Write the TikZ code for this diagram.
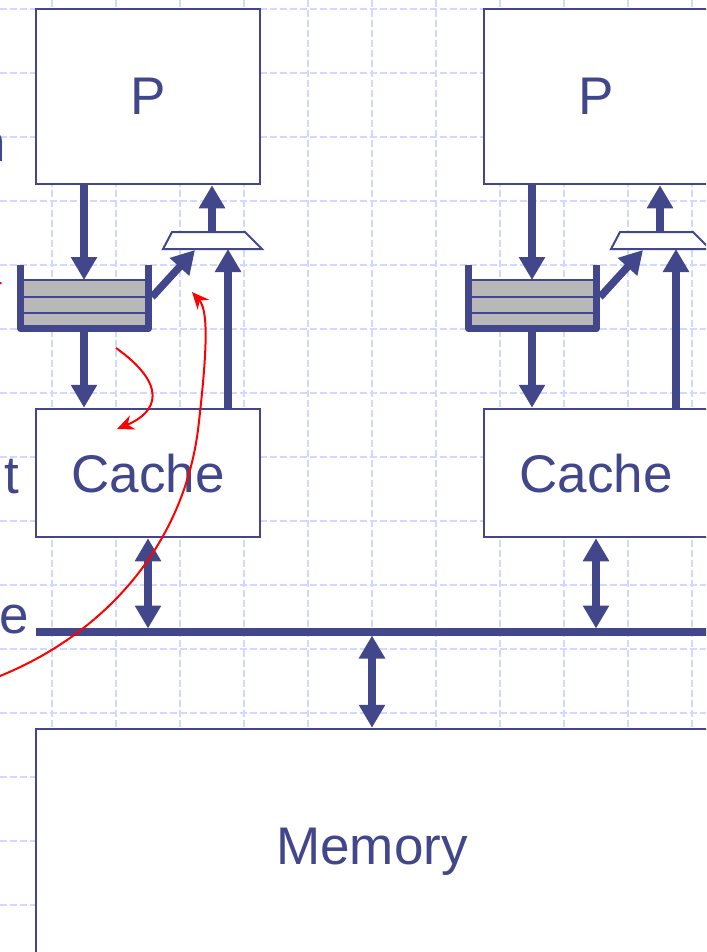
\documentclass[tikz,border=0pt]{standalone}
\usepackage{fontspec}
\setmainfont{Liberation Sans}
\usetikzlibrary{arrows.meta}
\definecolor{slideblue}{RGB}{66,71,140}
\definecolor{gridblue}{RGB}{208,218,255}
\definecolor{slotgray}{RGB}{184,184,184}
\tikzset{
  unit/.style={rectangle, draw=slideblue, line width=2.5pt, fill=white,
    text=slideblue, inner sep=0pt, text depth=0pt,
    font=\fontsize{53}{60}\selectfont},
  datapath/.style={draw=slideblue, line width=7.5pt,
    -{Triangle[width=25pt,length=23pt]}},
  bidir/.style={datapath,
    {Triangle[width=25pt,length=23pt]}-{Triangle[width=25pt,length=23pt]}},
  note/.style={draw=red, line width=2pt, -{Stealth[width=15pt,length=17pt]}}
}

\begin{document}
\begin{tikzpicture}[
    x=1pt, y=-1pt,
    gridline/.style={draw=gridblue, line width=1.2pt, dash pattern=on 7pt off 3pt},
    wall/.style={draw=slideblue, line width=7.5pt, line join=round},
    mux/.style={draw=slideblue, line width=2pt, fill=white},
    slot/.style={draw=slideblue, line width=2pt},
    cut/.style={anchor=base east, inner sep=0pt, text=slideblue,
                font=\fontsize{53}{60}\selectfont}
]
\clip (0,0) rectangle (706,952);

% grid
\foreach \i in {0,...,10}
  \draw[gridline] ({52+64*\i},0) -- ({52+64*\i},952);
\foreach \j in {0,...,14}
  \draw[gridline] (0,{9+64*\j}) -- (706,{9+64*\j});

% bus and memory
\coordinate (busW) at (36,632);
\coordinate (busE) at (720,632);
\coordinate (busN) at (0,628.5);
\coordinate (busS) at (0,635.5);
\draw[wall] (busW) -- (busE);
\node[unit, minimum width=672pt, minimum height=234pt] (mem) at (372,846) {Memory};
\draw[bidir] (mem.north |- busS) -- (mem.north);

% processor units
\foreach \dx/\s in {0/L,448/R}{
\begin{scope}[xshift=\dx pt]
  \node[unit, minimum width=224pt, minimum height=175pt] (P\s) at (148,96.5) {P};
  \node[unit, minimum width=224pt, minimum height=128pt] (cache\s) at (148,473) {Cache};

  % queue
  \fill[slotgray] (24,280) rectangle (145,325);
  \foreach \y in {280,297,313}
    \draw[slot] (24,\y) -- (145,\y);
  \draw[wall] (20.5,265) -- (20.5,328.5) -- (148.5,328.5) -- (148.5,265);
  \coordinate (qin\s) at (84,280);
  \coordinate (qout\s) at (84,332);
  \coordinate (qside\s) at (152,297);

  % mux
  \draw[mux] (172,232) -- (245,232) -- (262,249) -- (163,249) -- cycle;
  \coordinate (muxtop\s) at (212,232);
  \coordinate (muxin\s) at (195,250);
  \coordinate (muxbot\s) at (228,249);

  % arrows
  \draw[datapath] (P\s.south -| qin\s) -- (qin\s);
  \draw[datapath] (qout\s) -- (qout\s |- cache\s.north);
  \draw[datapath] (qside\s) -- (muxin\s);
  \draw[datapath] (muxtop\s) -- (muxtop\s |- P\s.south);
  \draw[datapath] (cache\s.north -| muxbot\s) -- (muxbot\s);
  \draw[bidir] (cache\s.south) -- (cache\s.south |- busN);
\end{scope}
}

% labels cut at the left edge
\node[cut] (lblN) at (6,162) {n};
\node[cut] (lblT) at (19.5,493) {t};
\node[cut] (lblE) at (29,633) {e};

% red notes
\coordinate (bypassA) at (116,348);
\coordinate (bypassB) at (117,429);
\coordinate (snoopA) at (-5,678);
\coordinate (snoopM) at (198,430);
\coordinate (snoopB) at (192,292);
\draw[note] (bypassA) .. controls (168,385) and (158,412) .. (bypassB);
\draw[note] (snoopA) .. controls (105,635) and (183,545) .. (snoopM)
  .. controls (208,345) and (208,310) .. (snoopB);
\draw[red, line width=2pt] (-4,284) -- (1.5,283);

\end{tikzpicture}
\end{document}
